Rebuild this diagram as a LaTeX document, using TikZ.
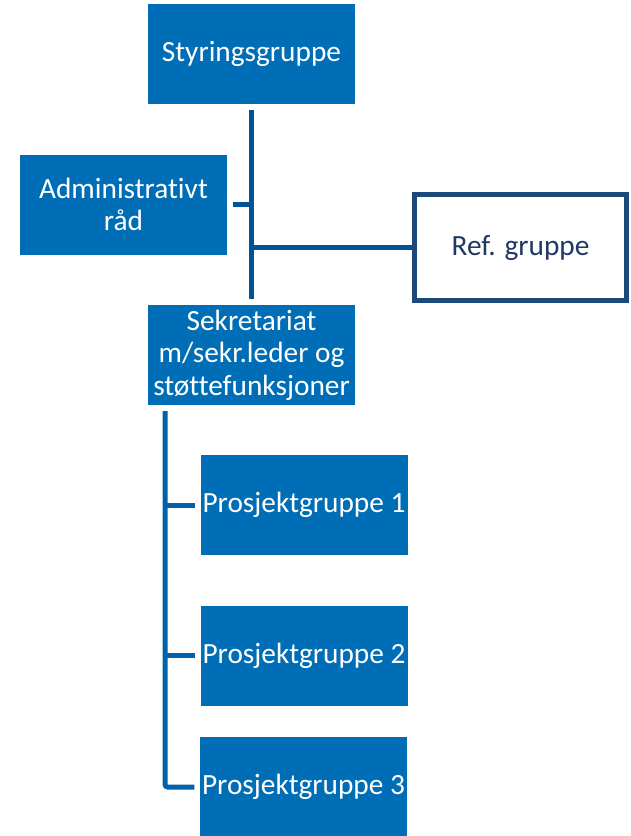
\documentclass[tikz,border=0pt]{standalone}
\usepackage{fontspec}
\setmainfont{Carlito}[Ligatures=NoCommon]
\definecolor{boxblue}{RGB}{0,110,182}
\definecolor{lineblue}{RGB}{0,84,147}
\definecolor{linebluelight}{RGB}{0,98,172}
\definecolor{refborder}{RGB}{27,74,122}
\definecolor{reftext}{RGB}{31,56,100}
\begin{document}
\begin{tikzpicture}[x=0.75pt,y=-0.75pt,
  bluebox/.style={fill=boxblue,draw=none,text=white,minimum width=155.25pt,minimum height=75pt,
    inner sep=0pt,align=center,font=\fontsize{22}{24.4}\selectfont},
  refbox/.style={fill=white,draw=refborder,line width=3.5pt,text=reftext,minimum width=159pt,minimum height=79.5pt,
    inner sep=0pt,align=center,font=\fontsize{22}{24.4}\selectfont},
  conA/.style={draw=lineblue,line width=3.75pt},
  conB/.style={draw=linebluelight,line width=3.75pt}]
\useasboundingbox (0,0) rectangle (631,836);
\clip (0,0) rectangle (631,836);
\node[bluebox] (styr) at (251.5,54) {Styringsgruppe};
\node[bluebox] (admin) at (123.5,204.5) {Administrativt\\råd};
\node[refbox] (ref) at (520.5,247.5) {Ref. gruppe};
\node[bluebox] (sek) at (251.5,355) {Sekretariat\\m/sekr.leder og\\støttefunksjoner};
\node[bluebox] (p1) at (304,505) {Prosjektgruppe 1};
\node[bluebox] (p2) at (304,655.5) {Prosjektgruppe 2};
\node[bluebox] (p3) at (303.5,787) {Prosjektgruppe 3};
\coordinate (bustop) at (165,411);
% top connectors
\draw[conA] ([yshift=-4.5pt]styr.south) -- ([yshift=4.5pt]sek.north);
\draw[conA] ([xshift=4.5pt]admin.east) -- (admin.east -| styr.south);
\draw[conA] (styr.south |- ref.west) -- (ref.west);
% bottom connectors
\draw[conB,rounded corners=2pt] (bustop) |- ([xshift=-4pt]p3.west);
\draw[conB] (bustop |- p1.west) -- ([xshift=-4pt]p1.west);
\draw[conB] (bustop |- p2.west) -- ([xshift=-4pt]p2.west);
\end{tikzpicture}
\end{document}
